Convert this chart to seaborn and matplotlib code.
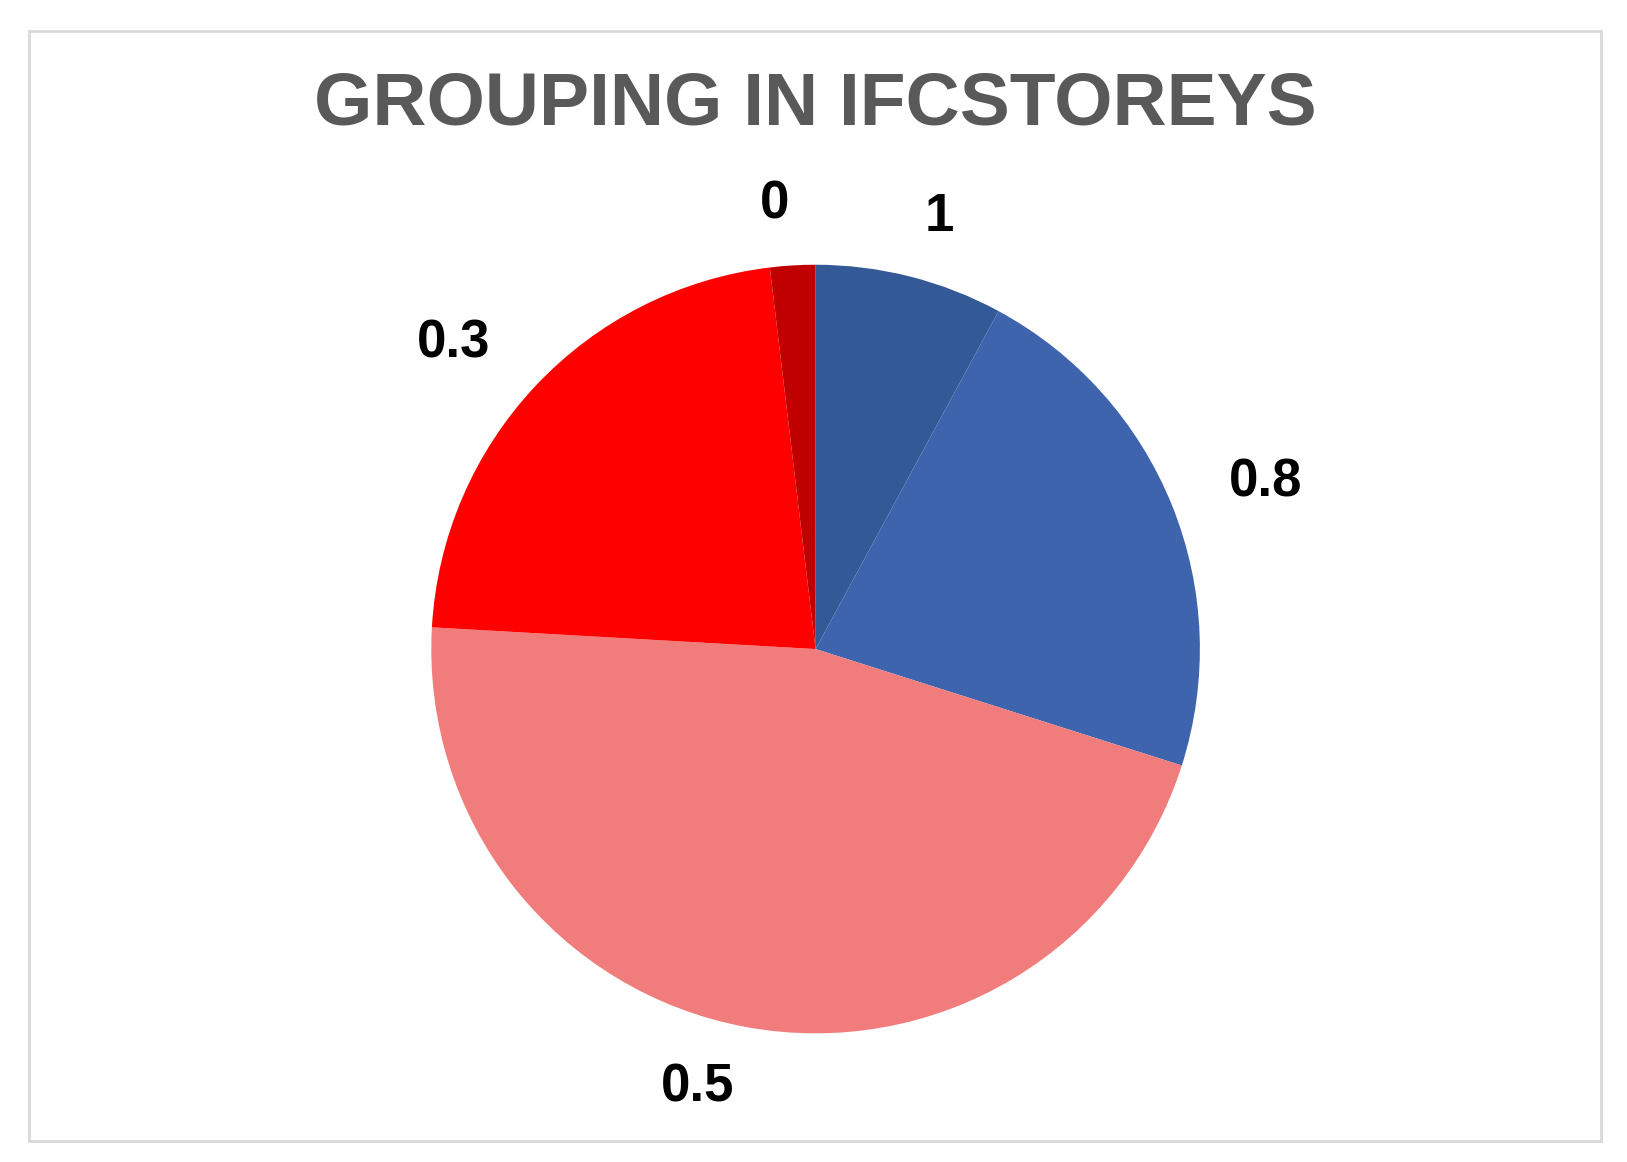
import matplotlib
matplotlib.use("Agg")
import matplotlib.pyplot as plt
import seaborn as sns
from matplotlib.patches import Rectangle

sns.set_theme(style="white")
plt.rcParams['font.family'] = ['Liberation Sans', 'DejaVu Sans']

labels = ["1", "0.8", "0.5", "0.3", "0"]
values = [7.9, 22.0, 46.0, 22.2, 1.9]
colors = ["#335a96", "#3d64ad", "#f07c7c", "#ff0000", "#c00000"]

fig = plt.figure(figsize=(16.27, 11.62), dpi=100)
fig.patch.set_facecolor("white")
fig.add_artist(Rectangle((28/1558, 1-1090/1110), (1533-28)/1558, (1090-30)/1110,
                         transform=fig.transFigure, fill=False, edgecolor="#d9d9d9", lw=2))

cx, cy = 781/1558, 1-620/1110
rw, rh = 368/1558, 368/1110
ax = fig.add_axes([cx-rw, cy-rh, 2*rw, 2*rh])
wedges, texts = ax.pie(values, labels=labels, colors=colors, startangle=90, counterclock=False,
                       labeldistance=1.16, radius=1,
                       wedgeprops=dict(linewidth=0, edgecolor="none"),
                       textprops=dict(fontsize=38, fontweight="bold", color="black"))
for t in texts:
    t.set_clip_on(False)
ax.set_xlim(-1, 1); ax.set_ylim(-1, 1)
ax.set_aspect("equal")
ax.axis("off")

fig.text(0.501, 1-100/1110, "GROUPING IN IFCSTOREYS", ha="center", va="center",
         fontsize=54, fontweight="bold", color="#595959")
fig.savefig("out.png", dpi=100, facecolor="white")
